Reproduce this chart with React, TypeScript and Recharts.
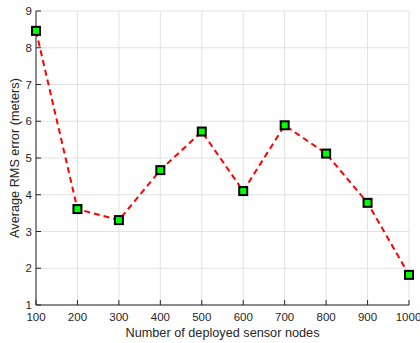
import { LineChart, Line, XAxis, YAxis, CartesianGrid } from 'recharts';

const nodeCounts = [100, 200, 300, 400, 500, 600, 700, 800, 900, 1000];
const rmsError = [8.46, 3.61, 3.31, 4.67, 5.72, 4.1, 5.89, 5.12, 3.78, 1.82];
const xTicks = [100, 200, 300, 400, 500, 600, 700, 800, 900, 1000];
const yTicks = [1, 2, 3, 4, 5, 6, 7, 8, 9];

const data = nodeCounts.map((n, i) => ({ n, err: rmsError[i] }));

const axisColor = '#262626';
const font = '"Liberation Sans", Arial, Helvetica, sans-serif';

// green square marker with a thick black outline
function SquareDot(props: any) {
  const { cx, cy, index } = props;
  if (cx == null || cy == null) return null;
  return (
    <rect
      key={`sq-${index}`}
      x={cx - 4}
      y={cy - 4}
      width={8}
      height={8}
      fill="#00ff00"
      stroke="#000"
      strokeWidth={2}
    />
  );
}

export default function App() {
  return (
    <div style={{ position: 'absolute', left: 0, top: 0, background: '#fff', fontFamily: font }}>
      <LineChart width={420} height={343} data={data} margin={{ top: 11, right: 11, bottom: 0, left: 0 }}>
        <CartesianGrid stroke="#e2e2e2" strokeWidth={1} />
        <XAxis
          dataKey="n"
          type="number"
          domain={[100, 1000]}
          ticks={xTicks}
          height={38}
          tickSize={-5}
          tickMargin={13}
          stroke={axisColor}
          tick={{ fill: axisColor, fontSize: 11.5, fontFamily: font }}
          label={{ value: 'Number of deployed sensor nodes', position: 'insideBottom', offset: 6, fill: axisColor, fontSize: 12.7, fontFamily: font }}
        />
        <YAxis
          type="number"
          domain={[1, 9]}
          ticks={yTicks}
          width={36}
          tickSize={-5}
          tickMargin={9}
          stroke={axisColor}
          tick={{ fill: axisColor, fontSize: 11.5, fontFamily: font }}
          label={{ value: 'Average RMS error (meters)', angle: -90, position: 'center', dx: -4, fill: axisColor, fontSize: 12.7, fontFamily: font }}
        />
        <XAxis
          xAxisId="top"
          dataKey="n"
          type="number"
          orientation="top"
          domain={[100, 1000]}
          ticks={xTicks}
          height={0}
          tickSize={-5}
          tick={false}
          stroke={axisColor}
        />
        <YAxis
          yAxisId="right"
          type="number"
          orientation="right"
          domain={[1, 9]}
          ticks={yTicks}
          width={0}
          tickSize={-5}
          tick={false}
          stroke={axisColor}
        />
        <Line
          dataKey="err"
          stroke="#ff0000"
          strokeWidth={2}
          strokeDasharray="6 4"
          dot={SquareDot}
          isAnimationActive={false}
        />
      </LineChart>
    </div>
  );
}
